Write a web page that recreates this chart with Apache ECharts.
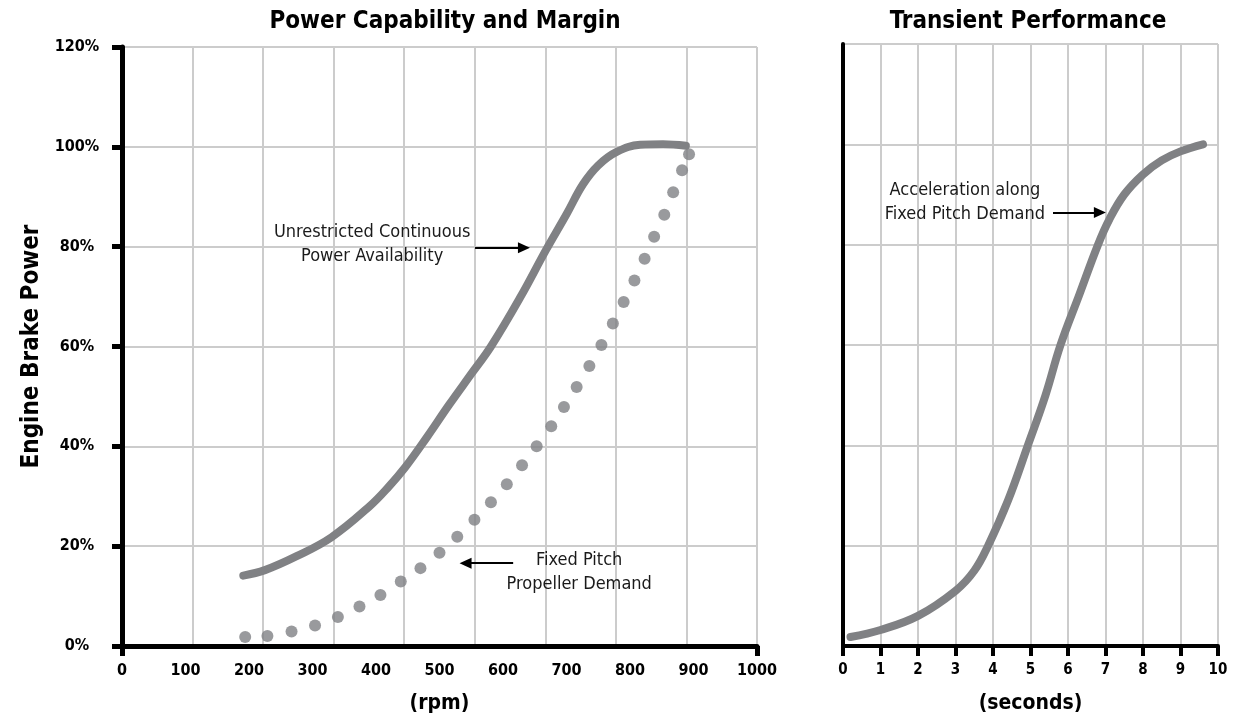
<!DOCTYPE html>
<html>
<head>
<meta charset="utf-8">
<title>Power Capability and Margin</title>
<script src="https://cdn.jsdelivr.net/npm/echarts@6/dist/echarts.min.js"></script>
<style>
html, body { margin: 0; padding: 0; background: #fff; }
#main { width: 1234px; height: 719px; }
</style>
</head>
<body>
<div id="main"></div>
<script>
// 数据
var rpmUnrestricted   = [191, 225, 275, 330, 390, 420, 446, 480, 515, 550, 581, 627, 668, 700, 726, 750, 779, 816, 852, 888];
var powerUnrestricted = [14.1, 15.2, 18, 21.8, 28, 31.9, 35.8, 41.8, 48.3, 54.5, 60, 69.8, 79.4, 86.5, 92.5, 96.3, 99, 100.4, 100.5, 100.2];

var rpmPropeller   = [194, 229, 267, 304, 340, 374, 407, 439, 470, 500, 528, 555, 581, 606, 630, 653, 676, 696, 716, 736, 755, 773, 790, 807, 823, 838, 854, 868, 882, 893];
var powerPropeller = [1.8, 2.0, 2.9, 4.1, 5.8, 7.9, 10.2, 12.9, 15.6, 18.7, 21.9, 25.3, 28.8, 32.4, 36.2, 40.0, 44.0, 47.9, 51.9, 56.1, 60.3, 64.6, 68.9, 73.2, 77.6, 82.0, 86.4, 90.9, 95.3, 98.5];

var secAccel   = [0.2, 1, 2, 3, 3.5, 3.87, 4.4, 4.93, 5.4, 5.8, 6.3, 6.8, 7.1, 7.5, 8, 8.5, 9, 9.6];
var powerAccel = [1.8, 3.2, 6, 11, 15, 20, 29, 40, 50, 60, 70, 80, 85, 90, 94, 96.8, 98.6, 100];

var rpmRange = [0, 1000, 100];
var secRange = [0, 10, 1];
var powerRange = [0, 120, 20];

function zip(a, b) {
    return a.map(function (v, i) { return [v, b[i]]; });
}

var FONT = "'Liberation Sans Narrow', 'DejaVu Sans Condensed', 'Roboto', sans-serif";
var GRAY = '#808184';
var GRID = '#cccccc';

function note(coord, text) {
    return {
        coord: coord, symbol: 'circle', symbolSize: 1,
        itemStyle: { color: 'rgba(0,0,0,0)' },
        label: {
            show: true, position: 'inside', formatter: text,
            color: '#1a1a1a', fontFamily: FONT, fontSize: 18, lineHeight: 24, align: 'center'
        }
    };
}

function arrow(from, to) {
    return [{ coord: from }, { coord: to }];
}

var arrowStyle = {
    silent: true,
    animation: false,
    symbol: ['none', 'triangle'],
    symbolSize: [11, 12],
    lineStyle: { color: '#000', width: 2, type: 'solid' },
    label: { show: false },
    emphasis: { disabled: true }
};

function plain(v) { return String(v); }

var myChart = echarts.init(document.getElementById('main'));

var option = {
    animation: false,
    backgroundColor: '#fff',
    textStyle: { fontFamily: FONT },
    graphic: [
        { type: 'text', x: 445, y: 22, style: { text: 'Power Capability and Margin', font: 'bold 24px ' + FONT, fill: '#000', align: 'center', verticalAlign: 'middle' } },
        { type: 'text', x: 1028, y: 22, style: { text: 'Transient Performance', font: 'bold 24px ' + FONT, fill: '#000', align: 'center', verticalAlign: 'middle' } }
    ],
    grid: [
        { left: 122, top: 47, width: 635, height: 600 },
        { left: 843, top: 44, width: 375, height: 603 }
    ],
    xAxis: [
        {
            gridIndex: 0, type: 'value', min: rpmRange[0], max: rpmRange[1], interval: rpmRange[2],
            name: '(rpm)', nameLocation: 'middle', nameGap: 47,
            nameTextStyle: { fontFamily: FONT, fontWeight: 'bold', fontSize: 21, color: '#000' },
            axisLine: { show: true, onZero: false, lineStyle: { color: '#000', width: 5 } },
            axisTick: { show: true, customValues: [0, 1000], length: 10, lineStyle: { color: '#000', width: 5 } },
            axisLabel: { formatter: plain, margin: 17, color: '#000', fontFamily: FONT, fontWeight: 'bold', fontSize: 16 },
            splitLine: { show: false }
        },
        {
            // 原图的竖向网格线与刻度不对齐（9 列）
            gridIndex: 0, type: 'value', min: 0, max: 9, interval: 1,
            axisLine: { show: false }, axisTick: { show: false }, axisLabel: { show: false },
            splitLine: { show: true, lineStyle: { color: GRID, width: 2 } }
        },
        {
            gridIndex: 1, type: 'value', min: secRange[0], max: secRange[1], interval: secRange[2],
            name: '(seconds)', nameLocation: 'middle', nameGap: 47,
            nameTextStyle: { fontFamily: FONT, fontWeight: 'bold', fontSize: 21, color: '#000' },
            axisLine: { show: true, onZero: false, lineStyle: { color: '#000', width: 4 } },
            axisTick: { show: true, length: 10, lineStyle: { color: '#000', width: 4 } },
            axisLabel: { formatter: plain, margin: 17, color: '#000', fontFamily: FONT, fontWeight: 'bold', fontSize: 15 },
            splitLine: { show: true, lineStyle: { color: GRID, width: 2 } }
        }
    ],
    yAxis: [
        {
            gridIndex: 0, type: 'value', min: powerRange[0], max: powerRange[1], interval: powerRange[2],
            name: 'Engine Brake Power', nameLocation: 'middle', nameGap: 76, nameRotate: 90,
            nameTextStyle: { fontFamily: FONT, fontWeight: 'bold', fontSize: 24, color: '#000' },
            axisLine: { show: true, onZero: false, lineStyle: { color: '#000', width: 5 } },
            axisTick: { show: true, length: 10, lineStyle: { color: '#000', width: 5 } },
            axisLabel: { formatter: '{value}%', margin: 45, align: 'center', color: '#000', fontFamily: FONT, fontWeight: 'bold', fontSize: 16 },
            splitLine: { show: true, lineStyle: { color: GRID, width: 2 } }
        },
        {
            gridIndex: 1, type: 'value', min: powerRange[0], max: powerRange[1], interval: powerRange[2],
            axisLine: { show: true, onZero: false, lineStyle: { color: '#000', width: 4 } },
            axisTick: { show: false }, axisLabel: { show: false },
            splitLine: { show: true, lineStyle: { color: GRID, width: 2 } }
        }
    ],
    series: [
        {
            name: 'Unrestricted Continuous Power Availability', type: 'line',
            xAxisIndex: 0, yAxisIndex: 0,
            data: zip(rpmUnrestricted, powerUnrestricted),
            smooth: 0.4, showSymbol: false,
            lineStyle: { color: GRAY, width: 8, cap: 'round', join: 'round' },
            markPoint: { silent: true, animation: false, data: [note([394, 80.5], 'Unrestricted Continuous\nPower Availability')] },
            markLine: Object.assign({ data: [arrow([556, 79.8], [633, 79.8])] }, arrowStyle)
        },
        {
            name: 'Fixed Pitch Propeller Demand', type: 'scatter',
            xAxisIndex: 0, yAxisIndex: 0,
            data: zip(rpmPropeller, powerPropeller),
            symbolSize: 12,
            itemStyle: { color: GRAY },
            markPoint: { silent: true, animation: false, data: [note([720, 14.7], 'Fixed Pitch\nPropeller Demand')] },
            markLine: Object.assign({ data: [arrow([616, 16.6], [541, 16.6])] }, arrowStyle)
        },
        {
            name: 'Acceleration along Fixed Pitch Demand', type: 'line',
            xAxisIndex: 2, yAxisIndex: 1,
            data: zip(secAccel, powerAccel),
            smooth: 0.4, showSymbol: false,
            lineStyle: { color: GRAY, width: 8, cap: 'round', join: 'round' },
            markPoint: { silent: true, animation: false, data: [note([3.25, 88.5], 'Acceleration along\nFixed Pitch Demand')] },
            markLine: Object.assign({ data: [arrow([5.6, 86.4], [6.85, 86.4])] }, arrowStyle)
        }
    ]
};

myChart.setOption(option);
window.addEventListener('resize', function () {
    myChart.resize();
});
</script>
</body>
</html>
